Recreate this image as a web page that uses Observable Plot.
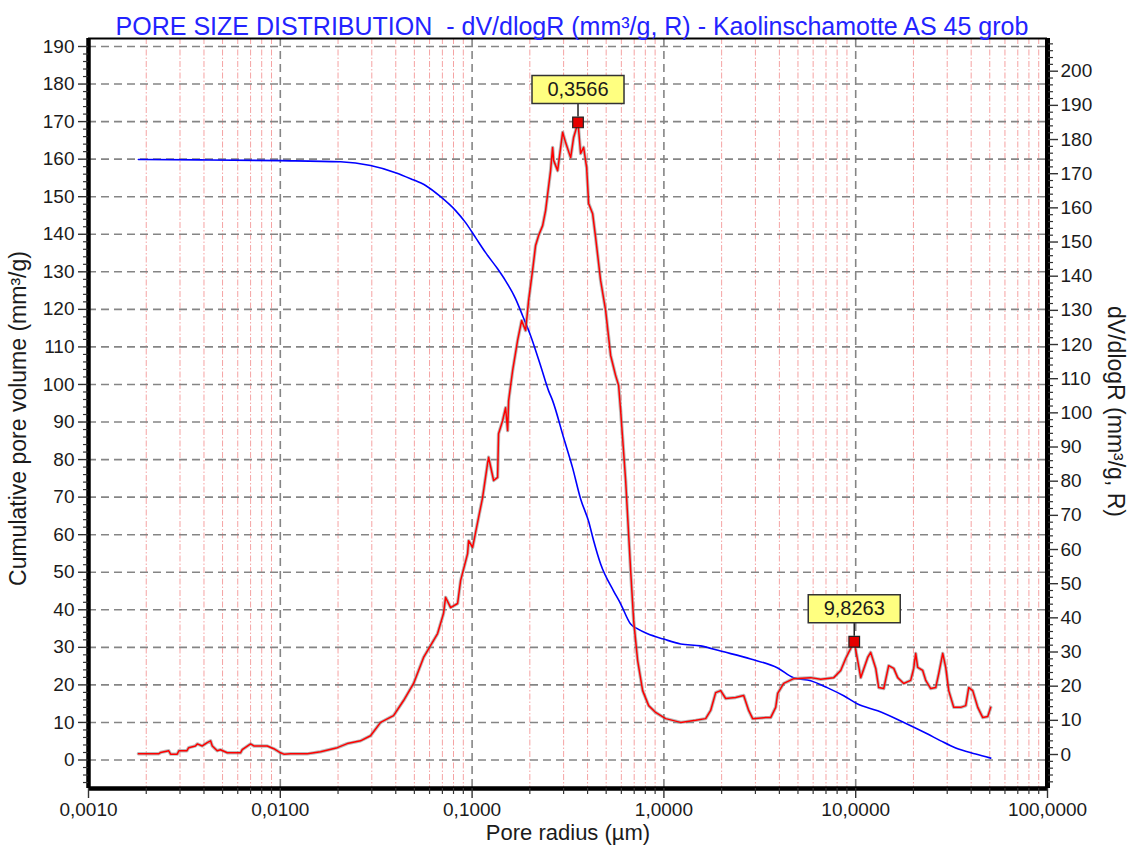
<!DOCTYPE html>
<html>
<head>
<meta charset="utf-8">
<script src="https://cdn.jsdelivr.net/npm/d3@7"></script>
<script src="https://cdn.jsdelivr.net/npm/@observablehq/plot@0.6"></script>
<style>
  body { margin: 0; background: #fff; }
  #chart svg { display: block; }
</style>
</head>
<body>
<div id="chart"></div>
<script>
// Pore radius (µm) and dV/dlogR (mm³/g, R) of the differential distribution
const redRadius = [0.00182, 0.00232, 0.00238, 0.00262, 0.00268, 0.00290, 0.00296, 0.00326, 0.00333, 0.00361,
  0.00369, 0.00392, 0.00416, 0.00433, 0.00442, 0.00469, 0.00488, 0.00529, 0.00620, 0.00633,
  0.00700, 0.00728, 0.00855, 0.00925, 0.01003, 0.01043, 0.01131, 0.01382, 0.01622, 0.01982,
  0.02234, 0.02621, 0.02955, 0.03333, 0.03895, 0.04392, 0.04954, 0.05585, 0.06607, 0.07097,
  0.07274, 0.07727, 0.08402, 0.08710, 0.09474, 0.09589, 0.1006, 0.1081, 0.1134, 0.1204,
  0.1219, 0.1295, 0.1358, 0.1374, 0.1442, 0.1495, 0.1532, 0.1550, 0.1588, 0.1627,
  0.1727, 0.1812, 0.1901, 0.1971, 0.2067, 0.2143, 0.2222, 0.2332, 0.2416, 0.2566,
  0.2629, 0.2661, 0.2792, 0.2965, 0.3074, 0.3264, 0.3383, 0.3566, 0.3680, 0.3815,
  0.3955, 0.4052, 0.4250, 0.4406, 0.4679, 0.4968, 0.5276, 0.5603, 0.5808, 0.5949,
  0.6317, 0.6708, 0.6954, 0.7296, 0.7748, 0.8328, 0.9058, 1.021, 1.223, 1.464,
  1.651, 1.753, 1.862, 1.977, 2.099, 2.366, 2.606, 2.767, 2.903, 3.393,
  3.604, 3.827, 3.920, 4.212, 4.750, 5.826, 6.569, 7.679, 8.353, 8.869,
  9.194, 9.8263, 10.24, 10.62, 11.55, 11.97, 12.72, 13.18, 14.00, 14.86,
  15.79, 16.56, 17.79, 19.35, 20.06, 20.55, 21.05, 22.35, 23.18, 24.61,
  26.14, 27.10, 28.43, 29.47, 30.55, 32.44, 35.29, 37.47, 38.85, 40.75,
  43.28, 45.95, 48.80, 50.58];
const redValue = [0.2, 0.2, 0.6, 1.1, 0.1, 0.1, 1.1, 1.1, 2.0, 2.5,
  3.1, 2.5, 3.5, 4.0, 2.5, 1.1, 1.4, 0.5, 0.5, 1.4,
  3.1, 2.5, 2.5, 1.7, 0.5, 0.1, 0.2, 0.2, 0.8, 2.0,
  3.2, 4.0, 5.5, 9.4, 11.4, 15.8, 20.8, 28.4, 35.4, 41.3,
  46.0, 43.0, 44.2, 50.9, 58.8, 62.6, 60.6, 69.4, 75.2, 85.2,
  87.0, 80.2, 81.1, 93.9, 97.7, 101.5, 94.8, 103.5, 108.0, 112.4,
  121.2, 127.0, 124.1, 132.9, 141.7, 149.0, 151.9, 154.8, 159.2, 170.9,
  177.7, 173.9, 170.9, 182.1, 179.1, 174.7, 180.6, 185.0, 175.9, 177.7,
  171.8, 161.3, 158.3, 151.3, 138.7, 130.0, 116.8, 110.9, 108.0, 100.7,
  80.2, 53.9, 39.2, 27.5, 18.7, 14.3, 12.3, 10.5, 9.4, 10.0,
  10.5, 12.9, 18.1, 18.7, 16.4, 16.7, 17.3, 12.9, 10.5, 10.8,
  10.8, 13.8, 17.9, 20.8, 22.2, 22.5, 22.0, 22.5, 24.6, 28.1,
  29.9, 33.0, 27.5, 22.5, 28.4, 29.9, 25.2, 19.6, 19.3, 26.0,
  25.2, 22.5, 20.8, 21.7, 25.2, 29.6, 25.5, 24.6, 21.7, 19.3,
  19.6, 23.7, 29.6, 25.5, 18.7, 13.8, 13.8, 14.3, 19.6, 18.7,
  13.8, 10.8, 11.1, 13.8];

// Pore radius (µm) and cumulative pore volume (mm³/g)
const blueRadius = [0.00182, 0.00384, 0.01003, 0.02062, 0.02955, 0.0399, 0.04778, 0.05722, 0.06849, 0.08204,
  0.0925, 0.1043, 0.1176, 0.1358, 0.1495, 0.1686, 0.1834, 0.2019, 0.2276, 0.2506,
  0.2629, 0.3001, 0.3342, 0.3680, 0.4052, 0.4302, 0.4679, 0.5469, 0.5949, 0.6708,
  0.7296, 0.8228, 0.997, 1.223, 1.555, 1.977, 2.835, 3.920, 4.750, 5.826,
  7.145, 8.659, 10.24, 13.02, 17.17, 23.74, 27.76, 33.22, 42.25, 50.58];
const blueValue = [159.9, 159.8, 159.6, 159.3, 158.3, 156.4, 154.8, 153.0, 150.0, 146.3,
  143.1, 139.1, 135.1, 130.8, 127.6, 122.8, 118.3, 113.0, 105.0, 98.3,
  95.7, 85.8, 77.8, 69.5, 63.5, 58.4, 52.2, 45.0, 41.6, 36.2,
  34.9, 33.6, 32.2, 30.9, 30.4, 29.0, 26.9, 24.5, 21.9, 21.1,
  19.2, 17.1, 14.9, 13.1, 10.4, 6.9, 5.1, 3.2, 1.6, 0.5];

// Labelled maxima of the distribution (pore radius, µm)
const peakRadius = [0.3566, 9.8263];

// Axis ticks
const xDecades = [0.001, 0.01, 0.1, 1, 10, 100];
const leftTicks = [0, 10, 20, 30, 40, 50, 60, 70, 80, 90, 100, 110, 120, 130, 140, 150, 160, 170, 180, 190];
const rightTicks = [0, 10, 20, 30, 40, 50, 60, 70, 80, 90, 100, 110, 120, 130, 140, 150, 160, 170, 180, 190, 200];

// Vertical extents of both value axes
const leftDomain = [-7.59, 192.13];
const rightDomain = [-9.95, 209.57];

// Map a dV/dlogR value onto the cumulative-volume scale shared by the frame
const k = (leftDomain[1] - leftDomain[0]) / (rightDomain[1] - rightDomain[0]);
const rightToLeft = v => leftDomain[0] + (v - rightDomain[0]) * k;
const leftToRight = v => rightDomain[0] + (v - leftDomain[0]) / k;

const redData = redRadius.map((r, i) => ({r, v: redValue[i]}));
const blueData = blueRadius.map((r, i) => ({r, v: blueValue[i]}));
const peaks = peakRadius.map(r => redData.find(d => d.r === r));

// Minor log positions (2..9 in each decade) and inner decade lines
const minorX = [];
for (const d of xDecades.slice(0, -1)) for (let m = 2; m <= 9; m++) minorX.push(+(m * d).toPrecision(3));
const innerDecades = xDecades.slice(1, -1);
const leftMinor = d3.range(-6, 192, 2).filter(v => v % 10 !== 0);
const rightMinor = d3.range(-8, 209, 2).filter(v => v % 10 !== 0);

const fmtRadius = d => d.toFixed(4).replace(".", ",");

// Label box and its connector, drawn relative to the marker
const labelBox = {draw(ctx) { ctx.rect(-46, -47, 92, 28); }};
const connector = {draw(ctx) { ctx.moveTo(0, -19); ctx.lineTo(0, -6); }};

const gridGray = {stroke: "#858585", strokeOpacity: 1, strokeWidth: 1.6, strokeDasharray: "8,5"};
const ink = "#1b1b1b";

const chart = Plot.plot({
  width: 1134,
  height: 854,
  marginLeft: 88,
  marginRight: 87,
  marginTop: 38,
  marginBottom: 66,
  style: {fontFamily: "'Liberation Sans', Arial, sans-serif", fontSize: "19px", background: "#fff", color: ink},
  x: {type: "log", domain: [0.001, 100], axis: null},
  y: {domain: leftDomain, axis: null},
  marks: [
    // grid
    Plot.gridX(minorX, {stroke: "#f5a3a3", strokeOpacity: 1, strokeWidth: 1, strokeDasharray: "6,2,1.5,2"}),
    Plot.gridY(leftTicks, gridGray),
    Plot.gridX(innerDecades, gridGray),

    // cumulative pore volume
    Plot.line(blueData, {x: "r", y: "v", stroke: "#0000ff", strokeWidth: 1.6, curve: "monotone-x"}),

    // dV/dlogR distribution
    Plot.line(redData, {x: "r", y: d => rightToLeft(d.v), stroke: "#8c8c8c", strokeWidth: 3.4, strokeOpacity: 0.6}),
    Plot.line(redData, {x: "r", y: d => rightToLeft(d.v), stroke: "#ff0000", strokeWidth: 1.5}),

    // peak annotations
    Plot.dot(peaks, {x: "r", y: d => rightToLeft(d.v), symbol: connector, stroke: "#222", strokeWidth: 1.5, fill: "none"}),
    Plot.dot(peaks, {x: "r", y: d => rightToLeft(d.v), symbol: labelBox, fill: "#ffff80", stroke: "#333", strokeWidth: 1.5}),
    Plot.text(peaks, {x: "r", y: d => rightToLeft(d.v), text: d => fmtRadius(d.r), dy: -33, fontSize: 20, fill: ink}),
    Plot.dot(peaks, {x: "r", y: d => rightToLeft(d.v), symbol: "square", r: 6, fill: "#e60000", stroke: "#222", strokeWidth: 1.2}),

    // frame
    Plot.ruleY([leftDomain[1]], {stroke: "#000", strokeWidth: 2}),
    Plot.ruleY([leftDomain[0]], {stroke: "#000", strokeWidth: 4.5}),
    Plot.ruleX([0.001], {stroke: "#000", strokeWidth: 4.5}),
    Plot.ruleX([100], {stroke: "#000", strokeWidth: 5}),

    // left axis: cumulative pore volume
    Plot.axisY(leftTicks, {anchor: "left", label: null, tickSize: 10, tickPadding: 4, strokeWidth: 1.4, fill: ink, stroke: "#333"}),
    Plot.axisY(leftMinor, {anchor: "left", label: null, tickSize: 5, strokeWidth: 1.2, stroke: "#333", tickFormat: () => ""}),

    // right axis: dV/dlogR
    Plot.axisY(rightTicks.map(rightToLeft), {anchor: "right", label: null, tickSize: 10, tickPadding: 3, strokeWidth: 1.4, fill: ink, stroke: "#333",
      tickFormat: v => String(Math.round(leftToRight(v)))}),
    Plot.axisY(rightMinor.map(rightToLeft), {anchor: "right", label: null, tickSize: 5, strokeWidth: 1.2, stroke: "#333", tickFormat: () => ""}),

    // bottom axis: pore radius
    Plot.axisX(xDecades, {anchor: "bottom", label: null, tickSize: 10, tickPadding: 4, strokeWidth: 1.4, fill: ink, stroke: "#333", tickFormat: fmtRadius}),
    Plot.axisX(minorX, {anchor: "bottom", label: null, tickSize: 6, strokeWidth: 1.2, stroke: "#333", tickFormat: () => ""}),

    // axis titles
    Plot.text(["Cumulative pore volume (mm³/g)"], {frameAnchor: "left", textAnchor: "middle", dx: -70, dy: 5, rotate: -90, fontSize: 23, fill: ink}),
    Plot.text(["dV/dlogR (mm³/g, R)"], {frameAnchor: "right", textAnchor: "middle", dx: 68, dy: -2, rotate: 90, fontSize: 23, fill: ink}),
    Plot.text(["Pore radius (µm)"], {frameAnchor: "bottom", dy: 51, fontSize: 22, fill: ink}),

    // title
    Plot.text(["PORE SIZE DISTRIBUTION  - dV/dlogR (mm³/g, R) - Kaolinschamotte AS 45 grob"],
      {frameAnchor: "top", dy: -21, dx: 4, fontSize: 25, fill: "#2323ff"})
  ]
});

document.getElementById("chart").appendChild(chart);
</script>
</body>
</html>
